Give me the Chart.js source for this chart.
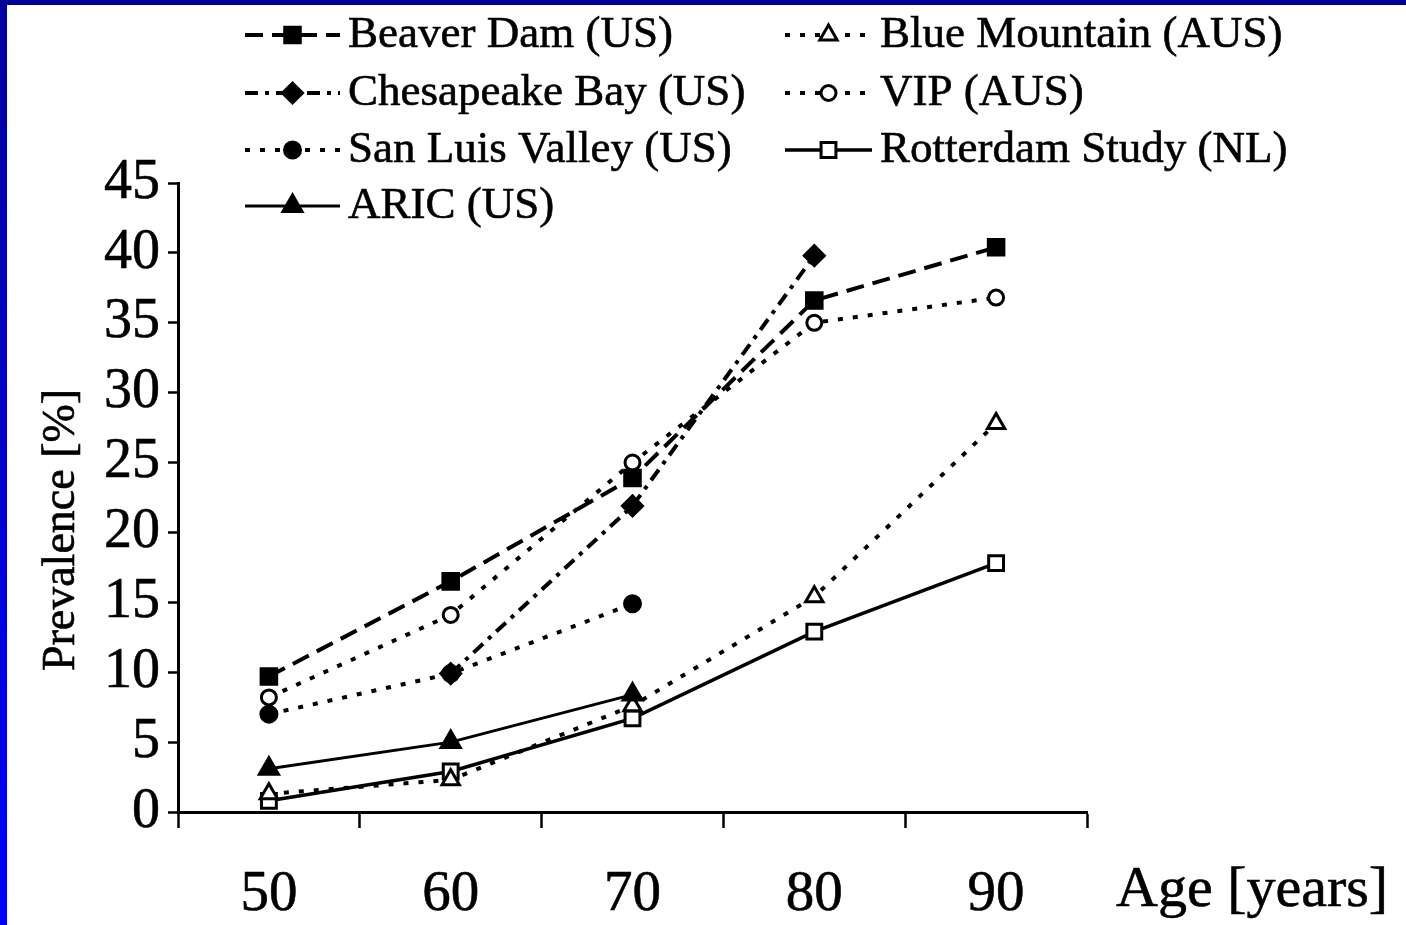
<!DOCTYPE html>
<html>
<head>
<meta charset="utf-8">
<title>Prevalence by age</title>
<script src="https://cdn.jsdelivr.net/npm/chart.js@4.4.0/dist/chart.umd.min.js"></script>
<style>
  html, body { margin: 0; padding: 0; background: #fff; }
  #wrap { position: relative; width: 1406px; height: 925px; overflow: hidden; background: #fff; }
  #chart { position: absolute; left: 0; top: 0; }
  .edge-top { position: absolute; left: 0; top: 0; width: 1406px; height: 5px; background: #00009a; }
  .edge-left { position: absolute; left: 0; top: 0; width: 7px; height: 925px; background: linear-gradient(#00009a, #0000ff); }
  .font-warm { position: absolute; left: -9999px; font-family: "Liberation Serif"; }
</style>
</head>
<body>
<div id="wrap">
  <canvas id="chart" width="1406" height="925"></canvas>
  <div class="edge-top"></div>
  <div class="edge-left"></div>
</div>
<span class="font-warm">Prevalence 0123456789</span>
<script>
// values (prevalence in %), null = no point
const ages = [50, 60, 70, 80, 90];
const beaverDam = [9.7, 16.5, 23.9, 36.6, 40.4];
const chesapeakeBay = [null, 9.9, 21.9, 39.8, null];
const sanLuisValley = [7.0, 9.9, 14.9, null, null];
const aric = [3.1, 5.0, 8.4, null, null];
const blueMountain = [1.3, 2.3, 7.6, 15.4, 27.8];
const vip = [8.2, 14.1, 25.0, 35.0, 36.8];
const rotterdam = [0.8, 2.9, 6.7, 12.9, 17.8];

const yTickLabels = [0, 5, 10, 15, 20, 25, 30, 35, 40, 45];
const xTickLabels = ages;

const SERIF = '"Liberation Serif", "DejaVu Serif", serif';

function toPoints(values) {
    return ages.map((a, i) => ({ x: a, y: values[i] })).filter(p => p.y !== null);
}

function series(label, values, style) {
    return {
        label: label,
        data: toPoints(values),
        borderColor: '#000',
        borderWidth: style.width,
        borderDash: style.dash,
        pointStyle: style.point,
        pointRadius: style.radius,
        pointBackgroundColor: style.filled ? '#000' : '#fff',
        pointBorderColor: '#000',
        pointBorderWidth: 3,
        fill: false,
        tension: 0,
        clip: false
    };
}

const datasets = [
    series('Beaver Dam (US)', beaverDam, { width: 4, dash: [18, 9], point: 'rect', radius: 11, filled: true }),
    series('Chesapeake Bay (US)', chesapeakeBay, { width: 4, dash: [13, 7, 4, 7], point: 'rectRot', radius: 10, filled: true }),
    series('San Luis Valley (US)', sanLuisValley, { width: 4, dash: [5, 10], point: 'circle', radius: 8, filled: true }),
    series('ARIC (US)', aric, { width: 3, dash: [], point: 'triangle', radius: 11, filled: true }),
    series('Blue Mountain (AUS)', blueMountain, { width: 4, dash: [5, 10], point: 'triangle', radius: 10, filled: false }),
    series('VIP (AUS)', vip, { width: 4, dash: [5, 10], point: 'circle', radius: 7.5, filled: false }),
    series('Rotterdam Study (NL)', rotterdam, { width: 3.5, dash: [], point: 'rect', radius: 10.5, filled: false })
];

// legend grid: left column 4 rows, right column 3 rows
const legendCols = [
    { x0: 245, x1: 340, text: 348 },
    { x0: 785, x1: 872, text: 880 }
];
const legendRows = [35, 93, 150, 206];
const legendCell = [[0, 0], [0, 1], [0, 2], [0, 3], [1, 0], [1, 1], [1, 2]];

function boldText(ctx, text, x, y) {
    ctx.fillText(text, x, y);
    ctx.strokeText(text, x, y);
}

const extrasPlugin = {
    id: 'extras',
    afterDraw(chart) {
        const ctx = chart.ctx;
        ctx.save();
        ctx.fillStyle = '#000';
        ctx.strokeStyle = '#000';

        // legend
        ctx.font = '45px ' + SERIF;
        ctx.textBaseline = 'middle';
        ctx.textAlign = 'left';
        chart.data.datasets.forEach((ds, i) => {
            const col = legendCols[legendCell[i][0]];
            const y = legendRows[legendCell[i][1]];
            ctx.save();
            ctx.lineWidth = ds.borderWidth;
            ctx.setLineDash(ds.borderDash);
            ctx.beginPath();
            ctx.moveTo(col.x0, y);
            ctx.lineTo(col.x1, y);
            ctx.stroke();
            ctx.setLineDash([]);
            ctx.fillStyle = ds.pointBackgroundColor;
            ctx.lineWidth = ds.pointBorderWidth;
            Chart.helpers.drawPoint(ctx, {
                pointStyle: ds.pointStyle,
                radius: ds.pointRadius,
                rotation: 0,
                borderWidth: ds.pointBorderWidth
            }, (col.x0 + col.x1) / 2, y);
            ctx.restore();
            ctx.lineWidth = 0.6;
            boldText(ctx, ds.label, col.text, y);
        });

        // x axis title
        ctx.font = '58px ' + SERIF;
        boldText(ctx, 'Age [years]', 1116, 891);

        // y axis title
        ctx.translate(62, 530);
        ctx.rotate(-Math.PI / 2);
        ctx.textAlign = 'center';
        ctx.font = '46px ' + SERIF;
        boldText(ctx, 'Prevalence [%]', 0, 0);
        ctx.restore();
    }
};

function render() {
    new Chart(document.getElementById('chart'), {
        type: 'line',
        data: { datasets: datasets },
        options: {
            responsive: false,
            animation: false,
            events: [],
            layout: { padding: { top: 183, right: 319, bottom: 0, left: 0 } },
            plugins: { legend: { display: false }, tooltip: { enabled: false } },
            scales: {
                x: {
                    type: 'linear',
                    min: 45,
                    max: 95,
                    afterFit(scale) { scale.height = 113; },
                    afterBuildTicks(scale) {
                        const vals = [45];
                        xTickLabels.forEach(v => vals.push(v, v + 5));
                        scale.ticks = vals.map(v => ({ value: v }));
                    },
                    ticks: {
                        autoSkip: false,
                        maxRotation: 0,
                        padding: 33,
                        color: '#000',
                        textStrokeColor: '#000',
                        textStrokeWidth: 0.6,
                        font: { family: SERIF, size: 57 },
                        callback: v => xTickLabels.includes(v) ? String(v) : ''
                    },
                    grid: {
                        drawOnChartArea: false,
                        drawTicks: true,
                        tickLength: 16,
                        tickWidth: 2.5,
                        tickColor: c => (c.tick && xTickLabels.includes(c.tick.value)) ? 'rgba(0,0,0,0)' : '#000'
                    },
                    border: { display: true, color: '#000', width: 3 }
                },
                y: {
                    min: 0,
                    max: 45,
                    afterFit(scale) { scale.width = 178; },
                    afterBuildTicks(scale) {
                        scale.ticks = yTickLabels.map(v => ({ value: v }));
                    },
                    ticks: {
                        autoSkip: false,
                        padding: 8,
                        color: '#000',
                        textStrokeColor: '#000',
                        textStrokeWidth: 0.6,
                        font: { family: SERIF, size: 56 }
                    },
                    grid: {
                        drawOnChartArea: false,
                        drawTicks: true,
                        tickLength: 10,
                        tickWidth: 2.5,
                        tickColor: '#000'
                    },
                    border: { display: true, color: '#000', width: 3 }
                }
            }
        },
        plugins: [extrasPlugin]
    });
}

if (document.fonts && document.fonts.load) {
    document.fonts.load('45px "Liberation Serif"').then(render, render);
} else {
    render();
}
</script>
</body>
</html>
